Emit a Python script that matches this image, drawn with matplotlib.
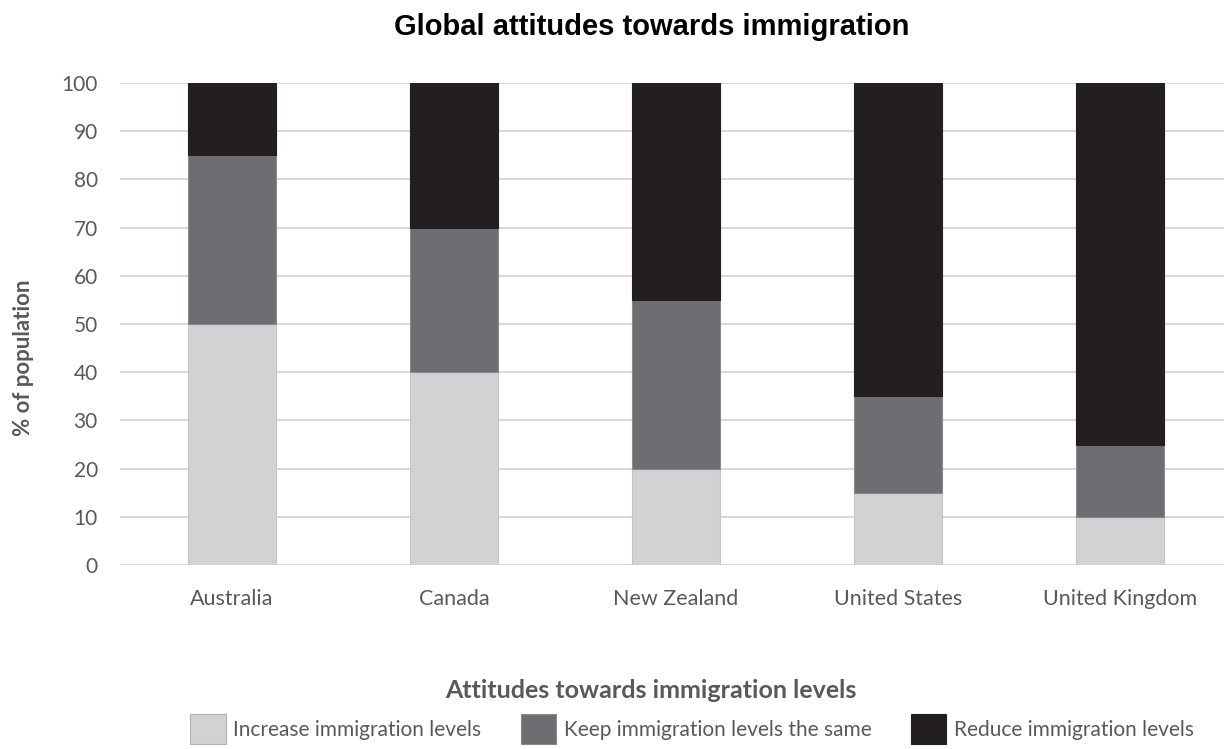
import matplotlib.pyplot as plt
from matplotlib.patches import Patch

countries = ['Australia', 'Canada', 'New Zealand', 'United States', 'United Kingdom']
increase = [50, 40, 20, 15, 10]
keep_same = [35, 30, 35, 20, 15]
reduce = [15, 30, 45, 65, 75]

c_light = '#d1d2d4'
c_mid = '#6d6e71'
c_dark = '#231f20'
txt = '#595959'

plt.rcParams['font.family'] = ['Lato', 'DejaVu Sans']

fig = plt.figure(figsize=(12.24, 7.49), dpi=100)
ax = fig.add_axes([120 / 1224, 184 / 749, 1 - 120 / 1224, 482 / 749])

x = list(range(len(countries)))
bottom2 = [a + b for a, b in zip(increase, keep_same)]
ax.bar(x, increase, width=0.4, color=c_light, edgecolor='#c4c5c7', linewidth=0.8, zorder=3)
ax.bar(x, keep_same, bottom=increase, width=0.4, color=c_mid, edgecolor='#8a8b8e', linewidth=0.8, zorder=3)
ax.bar(x, reduce, bottom=bottom2, width=0.4, color=c_dark, edgecolor=c_dark, linewidth=0.8, zorder=3)

ax.set_xlim(-0.5045, 4.468)
ax.set_ylim(0, 100)
ax.set_yticks(range(0, 101, 10))
ax.set_xticks(x)
ax.set_xticklabels(countries)
ax.yaxis.grid(True, color='#d9d9d9', linewidth=1.5, zorder=0)
ax.set_axisbelow(True)
for s in ax.spines.values():
    s.set_visible(False)
ax.tick_params(axis='both', length=0, labelcolor=txt)
ax.tick_params(axis='x', pad=17, labelsize=15.5)
ax.tick_params(axis='y', pad=16, labelsize=15)

fig.text(24 / 1224, 1 - 358 / 749, '% of population', rotation=90, ha='center', va='center',
         fontsize=16, fontweight='bold', color=txt)
fig.text(652 / 1224, 1 - 27 / 749, 'Global attitudes towards immigration', ha='center', va='center',
         fontsize=21, fontweight='bold', color='black', family=['Liberation Sans', 'DejaVu Sans'])

handles = [Patch(facecolor=c_light, edgecolor='#b0b1b3', linewidth=0.8),
           Patch(facecolor=c_mid, edgecolor='#8a8b8e', linewidth=0.8),
           Patch(facecolor=c_dark, edgecolor=c_dark, linewidth=0.8)]
labels = ['Increase immigration levels', 'Keep immigration levels the same', 'Reduce immigration levels']
fig.text(651 / 1224, 1 - 691 / 749, 'Attitudes towards immigration levels', ha='center', va='center',
         fontsize=18, fontweight='bold', color=txt)
fig.legend(handles, labels, ncol=3, loc='center', bbox_to_anchor=(692 / 1224, 1 - 729 / 749),
           frameon=False, fontsize=15, labelcolor=txt, handlelength=1.7, handleheight=1.8,
           handletextpad=0.35, columnspacing=1.9, borderpad=0, borderaxespad=0)

fig.savefig('out.png', dpi=100)
